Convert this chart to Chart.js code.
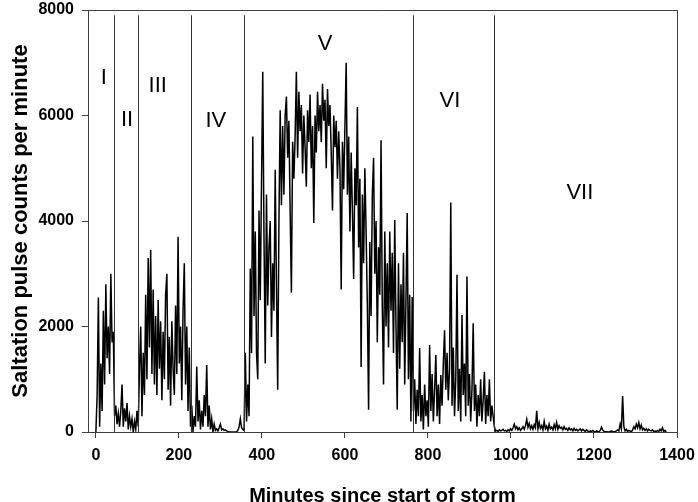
<!DOCTYPE html>
<html>
<head>
<meta charset="utf-8">
<script src="https://cdn.jsdelivr.net/npm/chart.js@4.4.1/dist/chart.umd.min.js"></script>
<style>
  html, body { margin: 0; padding: 0; background: #fff; }
  #wrap { width: 698px; height: 502px; }
</style>
</head>
<body>
<div id="wrap"><canvas id="chart" width="698" height="502"></canvas></div>
<script>
// one reading every 3 minutes
const sampleStep = 3;
const counts = [
  // 0 - 57
  0, 700, 2550, 100, 1300, 400, 2300, 900, 2800, 1400,
  2000, 1100, 3000, 1700, 1900, 300, 500, 150, 350, 100,
  // 60 - 117
  400, 900, 100, 450, 200, 550, 50, 300, 100, 250,
  0, 200, 50, 400, 100, 1200, 2000, 300, 1500, 700,
  // 120 - 177
  2600, 1000, 3300, 1600, 3450, 1100, 2700, 900, 2200, 700,
  2500, 1200, 2100, 600, 1900, 1000, 2600, 3000, 800, 1800,
  // 180 - 237
  500, 2100, 1200, 700, 2400, 1100, 3700, 1300, 2000, 600,
  2300, 3200, 900, 2000, 400, 1600, 100, 500, 0, 300,
  // 240 - 297
  100, 1240, 200, 600, 50, 400, 100, 700, 300, 1270,
  100, 500, 50, 250, 0, 150, 30, 60, 20, 80,
  // 300 - 357
  150, 40, 60, 30, 40, 20, 10, 0, 0, 0,
  0, 0, 0, 5, 30, 100, 250, 80, 50, 30,
  // 360 - 417
  1500, 200, 900, 300, 3100, 1500, 5600, 2200, 3800, 1500,
  1000, 4200, 2500, 4700, 6830, 3700, 1300, 4500, 2400, 3500,
  // 420 - 477
  4000, 1800, 3200, 2300, 4970, 2800, 800, 4000, 6100, 4300,
  5800, 4500, 6000, 6360, 5200, 5900, 4200, 2640, 5500, 4800,
  // 480 - 537
  5600, 6830, 5200, 6450, 5700, 6200, 4900, 6000, 5400, 4650,
  6100, 5500, 6400, 5000, 5800, 3960, 6000, 5300, 6450, 5700,
  // 540 - 597
  6200, 5500, 6600, 5900, 6300, 5000, 6500, 5800, 6200, 5300,
  4200, 6000, 5400, 5900, 4800, 5700, 5000, 2700, 5500, 4600,
  // 600 - 657
  5800, 7000, 4500, 5600, 3800, 5300, 4200, 2900, 5000, 4300,
  6160, 3500, 4800, 1230, 4500, 3200, 5000, 3800, 2400, 420,
  // 660 - 717
  3600, 2200, 4500, 5200, 3000, 4000, 1700, 3500, 2600, 5530,
  2400, 900, 3800, 2000, 3200, 1600, 3800, 2300, 3400, 1500,
  // 720 - 777
  4020, 2000, 420, 3200, 1200, 2800, 1700, 3400, 900, 2500,
  4150, 1000, 2600, 200, 2560, 400, 1000, 150, 800, 300,
  // 780 - 837
  1590, 200, 700, 50, 900, 300, 600, 100, 1650, 400,
  1100, 200, 800, 1460, 300, 900, 150, 1080, 500, 1300,
  // 840 - 897
  1930, 800, 1500, 600, 1200, 4350, 500, 1600, 300, 1000,
  2980, 400, 1200, 200, 2220, 700, 1300, 300, 2950, 500,
  // 900 - 957
  1100, 200, 800, 2060, 400, 900, 100, 700, 300, 1000,
  200, 600, 1140, 150, 700, 300, 1000, 200, 500, 300,
  // 960 - 1017
  100, 20, 30, 10, 40, 20, 30, 50, 20, 30,
  10, 40, 20, 60, 30, 80, 150, 60, 100, 40,
  // 1020 - 1077
  80, 30, 60, 100, 50, 120, 240, 90, 160, 60,
  120, 50, 140, 80, 400, 60, 180, 70, 120, 40,
  // 1080 - 1137
  200, 60, 110, 30, 150, 60, 90, 40, 140, 60,
  180, 50, 120, 70, 90, 40, 100, 50, 70, 30,
  // 1140 - 1197
  80, 40, 60, 20, 70, 30, 50, 20, 40, 60,
  20, 50, 30, 10, 40, 20, 0, 20, 10, 30,
  // 1200 - 1257
  10, 0, 20, 10, 0, 30, 90, 40, 10, 0,
  10, 0, 0, 10, 20, 10, 0, 10, 20, 40,
  // 1260 - 1317
  20, 150, 60, 680, 100, 20, 50, 10, 30, 20,
  0, 40, 100, 60, 150, 80, 180, 60, 130, 40,
  // 1320 - 1374
  70, 30, 60, 20, 50, 30, 20, 40, 10, 20,
  10, 30, 10, 50, 20, 80, 10, 30, 0
];

// storm phases: boundaries (minutes) and labels placed in data units
const phaseBounds = [44, 102, 228, 358, 763, 960];
const phaseNames = ['I', 'II', 'III', 'IV', 'V', 'VI', 'VII'];
const phaseLabelX = [19, 75, 149, 289, 552, 853, 1166];
const phaseLabelY = [6710, 5915, 6560, 5900, 7360, 6280, 4530];

const xTicks = [0, 200, 400, 600, 800, 1000, 1200, 1400];

const points = counts.map((c, i) => ({ x: i * sampleStep, y: c }));

const axisColor = '#404040';
const fontFamily = 'Arial, "Liberation Sans", sans-serif';

const phasePlugin = {
  id: 'phases',
  afterDatasetsDraw(chart) {
    const { ctx, chartArea, scales } = chart;
    const xs = scales.x, ys = scales.y;
    ctx.save();
    // frame on top and right
    ctx.strokeStyle = axisColor;
    ctx.lineWidth = 1;
    ctx.beginPath();
    ctx.moveTo(chartArea.left, chartArea.top + 0.5);
    ctx.lineTo(chartArea.right + 0.5, chartArea.top + 0.5);
    ctx.lineTo(chartArea.right + 0.5, chartArea.bottom);
    ctx.stroke();
    // phase separators
    ctx.strokeStyle = '#333';
    for (const b of phaseBounds) {
      const px = Math.round(xs.getPixelForValue(b)) + 0.5;
      ctx.beginPath();
      ctx.moveTo(px, ys.getPixelForValue(7900));
      ctx.lineTo(px, chartArea.bottom);
      ctx.stroke();
    }
    // phase names
    ctx.fillStyle = '#000';
    ctx.font = '22px ' + fontFamily;
    ctx.textAlign = 'center';
    ctx.textBaseline = 'middle';
    phaseNames.forEach((n, i) => {
      ctx.fillText(n, xs.getPixelForValue(phaseLabelX[i]), ys.getPixelForValue(phaseLabelY[i]));
    });
    ctx.restore();
  }
};

new Chart(document.getElementById('chart'), {
  type: 'line',
  data: {
    datasets: [{
      data: points,
      borderColor: '#000',
      borderWidth: 1.5,
      pointRadius: 0,
      tension: 0,
      fill: false
    }]
  },
  options: {
    responsive: false,
    animation: false,
    layout: { padding: { top: 10, right: 21, left: 0, bottom: 0 } },
    plugins: { legend: { display: false }, tooltip: { enabled: false } },
    scales: {
      x: {
        type: 'linear',
        min: -19,
        max: 1400,
        afterBuildTicks: (s) => { s.ticks = xTicks.map(v => ({ value: v })); },
        afterFit: (s) => { s.height = 70; s.paddingLeft = 0; s.paddingRight = 0; },
        grid: { drawOnChartArea: false, drawTicks: true, tickLength: 6, color: axisColor },
        border: { display: true, color: axisColor, width: 1 },
        ticks: {
          color: '#000', padding: 8, maxRotation: 0,
          callback: (v) => String(v),
          font: { family: fontFamily, size: 16, weight: 'bold' }
        },
        title: {
          display: true,
          text: 'Minutes since start of storm',
          color: '#000',
          padding: { top: 0, bottom: -6 },
          font: { family: fontFamily, size: 20, weight: 'bold' }
        }
      },
      y: {
        min: 0,
        max: 8000,
        afterFit: (s) => { s.width = 88; s.paddingTop = 0; s.paddingBottom = 0; },
        grid: { drawOnChartArea: false, drawTicks: true, tickLength: 6, color: axisColor },
        border: { display: true, color: axisColor, width: 1 },
        ticks: {
          stepSize: 2000, color: '#000', padding: 8,
          callback: (v) => String(v),
          font: { family: fontFamily, size: 16, weight: 'bold' }
        },
        title: {
          display: true,
          text: 'Saltation pulse counts per minute',
          color: '#000',
          padding: { top: 8, bottom: 0 },
          font: { family: fontFamily, size: 22, weight: 'bold' }
        }
      }
    }
  },
  plugins: [phasePlugin]
});
</script>
</body>
</html>
